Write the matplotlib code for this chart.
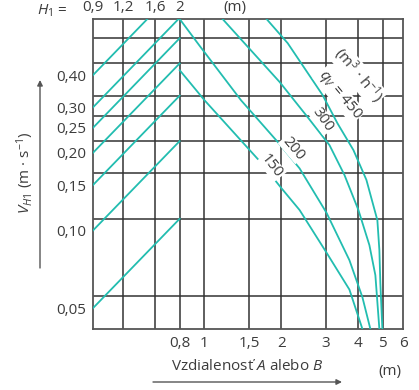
import matplotlib.pyplot as plt
from matplotlib.ticker import FixedLocator, NullLocator

plt.rcParams['font.family'] = ['Open Sans', 'DejaVu Sans']
plt.rcParams['mathtext.fontset'] = 'custom'
plt.rcParams['mathtext.rm'] = 'Open Sans'
plt.rcParams['mathtext.it'] = 'Open Sans:italic'

TEAL = '#22bdb0'
GRID = '#333333'
TEXT = '#3c3c3c'
FS = 11

# axis ranges (log-log)
X_MIN, X_MAX = 0.366, 6.0
Y_MIN, Y_MAX = 0.0415, 0.66

# tick labels
x_ticks = [0.8, 1, 1.5, 2, 3, 4, 5, 6]
x_tick_labels = ['0,8', '1', '1,5', '2', '3', '4', '5', '6']
y_ticks = [0.05, 0.10, 0.15, 0.20, 0.25, 0.30, 0.40]
y_tick_labels = ['0,05', '0,10', '0,15', '0,20', '0,25', '0,30', '0,40']

# grid lines
x_grid = [0.48, 0.64, 0.8, 1, 1.5, 2, 3, 4, 5]
y_grid = [0.0556, 0.111, 0.167, 0.222, 0.278, 0.333, 0.444, 0.556]

# H1 labels along the top
h1_pos = [0.366, 0.48, 0.64, 0.8]
h1_labels = ['0,9', '1,2', '1,6', '2']

# rising lines: value at the left edge -> value at 0.8 m
rise_start = [0.05, 0.10, 0.15, 0.20, 0.25, 0.30, 0.40]
rise_end = [0.111, 0.222, 0.333, 0.444, 0.556, 0.667, 0.889]
rise_x = [0.366, 0.8]

# falling curves for each flow rate qv
qv150_x = [0.80, 1.00, 1.66, 1.99, 2.36, 3.01, 3.70, 4.16, 4.18]
qv150_y = [0.418, 0.320, 0.184, 0.147, 0.120, 0.082, 0.059, 0.0415, 0.040]
qv200_x = [0.80, 0.96, 1.39, 1.94, 2.36, 3.01, 3.70, 4.16, 4.47, 4.49]
qv200_y = [0.66, 0.518, 0.320, 0.220, 0.174, 0.117, 0.0767, 0.0551, 0.0415, 0.040]
qv300_x = [1.17, 1.972, 2.537, 3.092, 3.538, 4.013, 4.431, 4.676, 4.848, 4.85]
qv300_y = [0.665, 0.376, 0.275, 0.214, 0.164, 0.120, 0.0877, 0.0671, 0.0415, 0.040]
qv450_x = [1.74, 2.120, 2.903, 3.323, 3.837, 4.313, 4.761, 4.848, 4.891, 4.981, 4.985]
qv450_y = [0.665, 0.532, 0.335, 0.260, 0.2048, 0.157, 0.1096, 0.0839, 0.0625, 0.0415, 0.040]

fig = plt.figure(figsize=(4.19, 3.90), dpi=100)
ax = fig.add_axes([93 / 419, 61 / 390, 310 / 419, 310 / 390])
ax.set_xscale('log')
ax.set_yscale('log')
ax.set_xlim(X_MIN, X_MAX)
ax.set_ylim(Y_MIN, Y_MAX)

for gx in x_grid:
    ax.axvline(gx, color=GRID, lw=1.1, zorder=1)
for gy in y_grid:
    ax.axhline(gy, color=GRID, lw=1.1, zorder=1)
for sp in ax.spines.values():
    sp.set_color('#555555')
    sp.set_linewidth(1.3)

for v0, v1 in zip(rise_start, rise_end):
    ax.plot(rise_x, [v0, v1], color=TEAL, lw=1.3, zorder=3)

for cx, cy in [(qv150_x, qv150_y), (qv200_x, qv200_y),
               (qv300_x, qv300_y), (qv450_x, qv450_y)]:
    ax.plot(cx, cy, color=TEAL, lw=1.3, zorder=3)

# curve labels, sitting over the curves
box = dict(facecolor='white', edgecolor='none', pad=0.5)
ax.text(1.835, 0.177, '150', rotation=-52, fontsize=FS, color=TEXT,
        ha='center', va='center', bbox=box, zorder=4)
ax.text(2.22, 0.208, '200', rotation=-50, fontsize=FS, color=TEXT,
        ha='center', va='center', bbox=box, zorder=4)
ax.text(2.90, 0.268, '300', rotation=-55, fontsize=FS, color=TEXT,
        ha='center', va='center', bbox=box, zorder=4)
ax.text(3.38, 0.335, '$q_V$ = 450', rotation=-50, fontsize=FS, color=TEXT,
        ha='center', va='center', bbox=box, zorder=4)
ax.text(4.00, 0.400, '(m$^3$ · h$^{-1}$)', rotation=-50, fontsize=FS,
        color=TEXT, ha='center', va='center', bbox=box, zorder=4)

ax.xaxis.set_major_locator(FixedLocator(x_ticks))
ax.xaxis.set_minor_locator(NullLocator())
ax.set_xticklabels(x_tick_labels)
ax.yaxis.set_major_locator(FixedLocator(y_ticks))
ax.yaxis.set_minor_locator(NullLocator())
ax.set_yticklabels(y_tick_labels)
ax.tick_params(length=0, labelsize=FS, labelcolor=TEXT, pad=5)

# H1 row along the top
for hx, hl in zip(h1_pos, h1_labels):
    ax.text(hx, 1.012, hl, transform=ax.get_xaxis_transform(), fontsize=FS,
            color=TEXT, ha='center', va='bottom')
ax.text(1.316, 1.012, '(m)', transform=ax.get_xaxis_transform(), fontsize=FS,
        color=TEXT, ha='center', va='bottom')
fig.text(52 / 419, 1 - 11 / 390, '$H_1$ =', fontsize=FS, color=TEXT,
         ha='center', va='center')

# axis titles and arrows
fig.text(25 / 419, 1 - 173 / 390, '$V_{H1}$ (m · s$^{-1}$)', rotation=90,
         fontsize=FS, color=TEXT, ha='center', va='center')
fig.text(247 / 419, 1 - 367 / 390, 'Vzdialenosť $A$ alebo $B$', fontsize=FS,
         color=TEXT, ha='center', va='center')
fig.text(390 / 419, 1 - 372 / 390, '(m)', fontsize=FS, color=TEXT,
         ha='center', va='center')

arrow = dict(arrowstyle='-|>', color='#555555', lw=1.0,
             mutation_scale=8, shrinkA=0, shrinkB=0)
ax.annotate('', xy=(40 / 419, 1 - 80 / 390), xytext=(40 / 419, 1 - 268 / 390),
            xycoords='figure fraction', textcoords='figure fraction',
            arrowprops=arrow, annotation_clip=False)
ax.annotate('', xy=(342 / 419, 1 - 382 / 390), xytext=(153 / 419, 1 - 382 / 390),
            xycoords='figure fraction', textcoords='figure fraction',
            arrowprops=arrow, annotation_clip=False)

fig.savefig('out.png', dpi=100, facecolor='white')
